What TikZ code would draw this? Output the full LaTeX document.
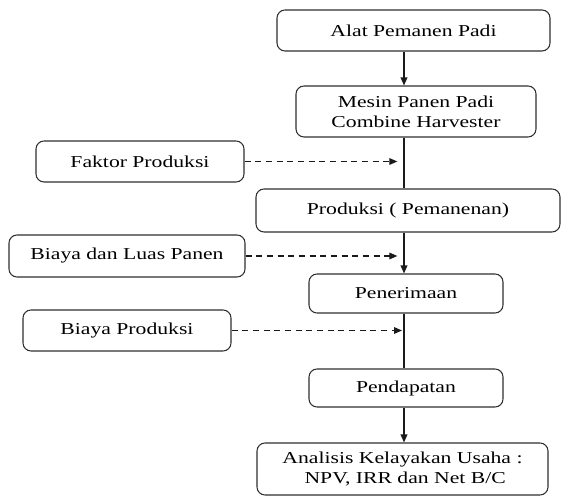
\documentclass[tikz,border=0pt]{standalone}
\usepackage{fontspec}
\setmainfont{Liberation Serif}[FakeStretch=1.3]
\usepackage{tikz}
\usetikzlibrary{arrows.meta,positioning}
\definecolor{boxline}{HTML}{2E2E2E}
\definecolor{flowink}{HTML}{1A1A1A}

\tikzset{
  flowbox/.style={draw=boxline,line width=0.8pt,rounded corners=6pt,
    align=center,inner sep=0pt},
  flowarrow/.style={flowink,line width=1pt,-{Triangle[length=6pt,width=5pt]}},
  feedarrow/.style={flowink,line width=0.8pt,dash pattern=on 4.5pt off 3.5pt,
    -{Triangle[length=6pt,width=5pt]},shorten >=5pt}
}

\begin{document}
\begin{tikzpicture}[x=0.75pt,y=-0.75pt,font=\fontsize{12.5}{15}\selectfont]
\useasboundingbox (0,0) rectangle (564,498);
% main spine of the flow
\coordinate (spine) at (404,0);
\foreach \id/\cx/\cy/\w/\h/\txt in {
  alat/413.5/30.5/273/41/{Alat Pemanen Padi},
  mesin/416/111.5/240/51/{Mesin Panen Padi\\Combine Harvester},
  faktor/140/161.5/208/41/{Faktor Produksi},
  produksi/408/210.5/304/43/{Produksi ( Pemanenan)},
  luas/127/256/236/42/{Biaya dan Luas Panen},
  terima/406/293.5/194/39/{Penerimaan},
  biaya/127/330.5/208/41/{Biaya Produksi},
  dapat/406/388/194/38/{Pendapatan},
  analisis/402.5/469/291/52/{Analisis Kelayakan Usaha :\\\ NPV, IRR dan Net B/C}}
{
  \node[flowbox,minimum width=\w*0.75pt,minimum height=\h*0.75pt]
    (\id) at (\cx,\cy) {\txt};
}
% solid links
\draw[flowarrow] (alat.south -| spine) -- (mesin.north -| spine);
\draw[flowink,line width=1pt] (mesin.south -| spine) -- (produksi.north -| spine);
\draw[flowarrow] (produksi.south -| spine) -- (terima.north -| spine);
\draw[flowink,line width=1pt] (terima.south -| spine) -- (dapat.north -| spine);
\draw[flowarrow] (dapat.south -| spine) -- (analisis.north -| spine);
% dashed inputs
\draw[feedarrow] (faktor.east) -- (faktor.east -| spine);
\draw[feedarrow] (luas.east) -- (luas.east -| spine);
\draw[feedarrow,shorten >=1.5pt] (biaya.east) -- (biaya.east -| spine);
\end{tikzpicture}
\end{document}
